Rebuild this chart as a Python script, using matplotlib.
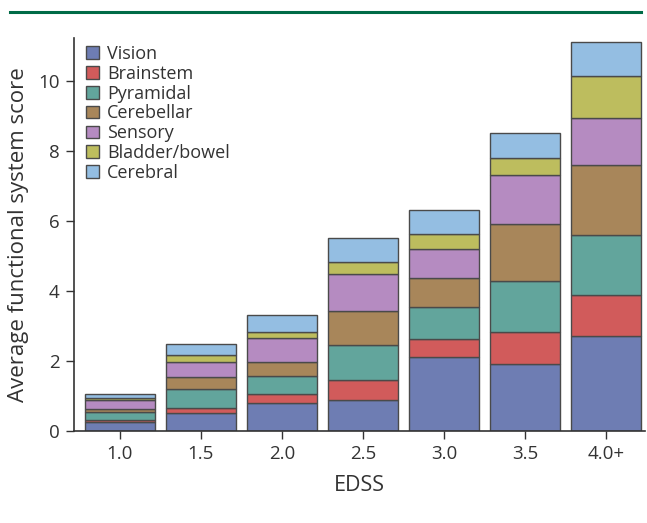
import numpy as np
import matplotlib.pyplot as plt
from matplotlib.lines import Line2D

plt.rcParams['font.family'] = ['Open Sans', 'DejaVu Sans']

edss = ["1.0", "1.5", "2.0", "2.5", "3.0", "3.5", "4.0+"]
systems = ["Vision", "Brainstem", "Pyramidal", "Cerebellar", "Sensory", "Bladder/bowel", "Cerebral"]

vision = [0.27, 0.51, 0.81, 0.89, 2.11, 1.91, 2.72]
brainstem = [0.03, 0.16, 0.26, 0.56, 0.51, 0.93, 1.17]
pyramidal = [0.25, 0.52, 0.50, 1.02, 0.91, 1.45, 1.72]
cerebellar = [0.08, 0.34, 0.39, 0.96, 0.85, 1.62, 1.98]
sensory = [0.26, 0.45, 0.69, 1.06, 0.81, 1.42, 1.36]
bladder = [0.05, 0.19, 0.17, 0.33, 0.43, 0.46, 1.19]
cerebral = [0.11, 0.32, 0.49, 0.71, 0.70, 0.73, 0.98]

series = [vision, brainstem, pyramidal, cerebellar, sensory, bladder, cerebral]
colors = ["#6e7db3", "#d15b5b", "#62a59c", "#a8865a", "#b58bc1", "#bdbd5e", "#94bee2"]

fig = plt.figure(figsize=(6.47, 5.23), dpi=100)
ax = fig.add_axes([0.114, 0.176, 0.883, 0.751])

x = np.arange(len(edss))
bottom = np.zeros(len(edss))
for vals, col, name in zip(series, colors, systems):
    ax.bar(x, vals, width=0.86, bottom=bottom, color=col, edgecolor="#4a4a4a",
           linewidth=1.0, label=name)
    bottom += np.array(vals)

ax.set_xlim(-0.57, 6.48)
ax.set_ylim(0, 11.23)
ax.set_yticks([0, 2, 4, 6, 8, 10])
ax.set_xticks(x)
ax.set_xticklabels(edss)

for s in ["top", "right"]:
    ax.spines[s].set_visible(False)
for s in ["left", "bottom"]:
    ax.spines[s].set_color("#333333")
    ax.spines[s].set_linewidth(1.2)

ax.tick_params(axis="both", direction="out", length=6, width=1, color="#333333",
               labelsize=13.5, labelcolor="#333333", pad=4)
ax.set_xlabel("EDSS", fontsize=15.5, color="#333333", labelpad=9)
ax.set_ylabel("Average functional system score", fontsize=16, color="#333333", labelpad=7)

leg = ax.legend(loc="upper left", bbox_to_anchor=(0.0, 1.015), frameon=False,
                fontsize=13, handlelength=0.7, handleheight=0.7, handletextpad=0.45,
                labelspacing=0.1, borderaxespad=0.3, labelcolor="#333333")

fig.add_artist(Line2D([0.016, 0.99], [0.977, 0.977], color="#006b47", linewidth=2.2))

fig.savefig("out.png", dpi=100)
